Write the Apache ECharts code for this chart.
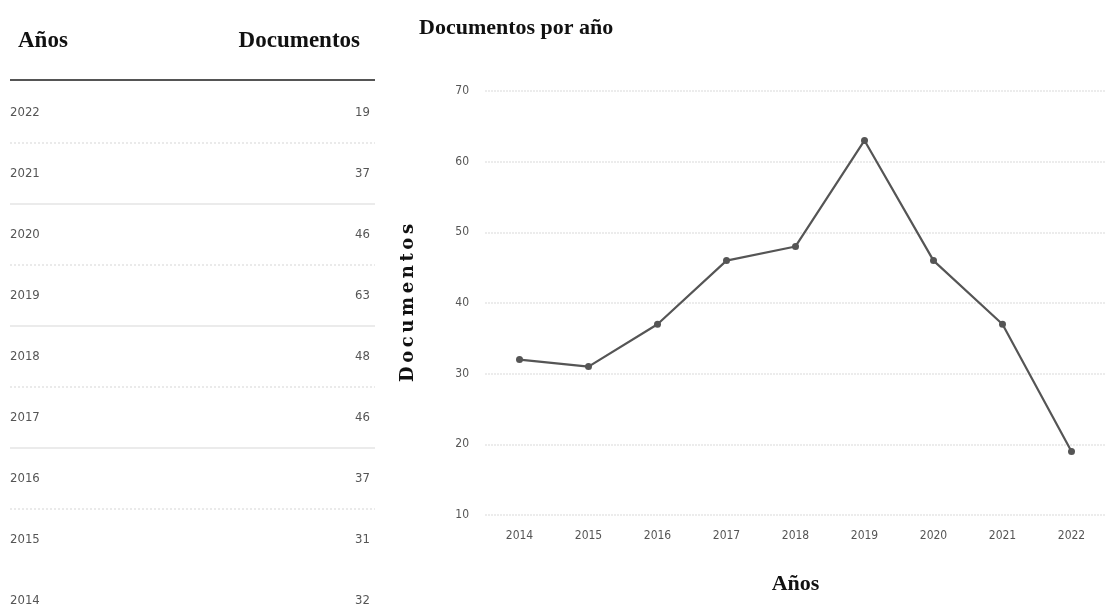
<!DOCTYPE html>
<html>
<head>
<meta charset="utf-8">
<script src="https://cdn.jsdelivr.net/npm/echarts@6/dist/echarts.min.js"></script>
<style>
  html, body { margin: 0; padding: 0; background: #fff; }
  #chart { width: 1106px; height: 607px; }
</style>
</head>
<body>
<div id="chart"></div>
<script>
// data
const years = ["2014", "2015", "2016", "2017", "2018", "2019", "2020", "2021", "2022"];
const docs = [32, 31, 37, 46, 48, 63, 46, 37, 19];
const tableHeader = ["Años", "Documentos"];

const serif = "'Liberation Serif', 'DejaVu Serif', serif";
const narrow = "'Liberation Sans Narrow', 'DejaVu Sans Condensed', sans-serif";

// table on the left, newest year first
const graphic = [];
graphic.push({
  type: "text", left: 18, top: 30,
  style: { text: tableHeader[0], font: "bold 23px " + serif, fill: "#111" }
});
graphic.push({
  type: "text", right: 1106 - 360, top: 30,
  style: { text: tableHeader[1], font: "bold 23px " + serif, fill: "#111" }
});
graphic.push({
  type: "line",
  shape: { x1: 10, y1: 80, x2: 375, y2: 80 },
  style: { stroke: "#555", lineWidth: 2 }
});

const rowTop = 113, rowStep = 61;
const rows = years.slice().reverse();
const vals = docs.slice().reverse();
rows.forEach((y, i) => {
  const cy = rowTop + i * rowStep;
  graphic.push({
    type: "text", x: 10, y: cy,
    style: { text: y, font: "13px " + narrow, fill: "#555", textVerticalAlign: "middle" }
  });
  graphic.push({
    type: "text", x: 370, y: cy,
    style: { text: String(vals[i]), font: "13px " + narrow, fill: "#555", textAlign: "right", textVerticalAlign: "middle" }
  });
  if (i < rows.length - 2) {
    graphic.push({
      type: "line",
      shape: { x1: 10, y1: cy + 30, x2: 375, y2: cy + 30 },
      style: { stroke: "#e4e4e4", lineWidth: 1.5, lineDash: i % 2 ? null : [2, 2] }
    });
  }
});

// spaced-out y axis title, like the original
const yName = "Documentos".split("").join("\u2009");

const chart = echarts.init(document.getElementById("chart"));
chart.setOption({
  animation: false,
  title: {
    text: "Documentos por año",
    left: 414, top: 12,
    textStyle: { fontFamily: serif, fontWeight: "bold", fontSize: 22, color: "#111" }
  },
  grid: { left: 485, top: 91, width: 634, height: 424 },
  xAxis: {
    type: "category",
    data: years,
    boundaryGap: true,
    name: "Años",
    nameLocation: "middle",
    nameGap: 58,
    nameTextStyle: { fontFamily: serif, fontWeight: "bold", fontSize: 22, color: "#111" },
    axisLine: { show: false },
    axisTick: { show: false },
    axisLabel: { fontFamily: narrow, fontSize: 12, color: "#555", margin: 15 }
  },
  yAxis: {
    type: "value",
    min: 10, max: 70, interval: 10,
    name: yName,
    nameLocation: "middle",
    nameRotate: 90,
    nameGap: 68,
    nameTextStyle: { fontFamily: "'DejaVu Serif', serif", fontWeight: "bold", fontSize: 18, color: "#111" },
    axisLine: { show: false },
    axisTick: { show: false },
    axisLabel: { fontFamily: narrow, fontSize: 12, color: "#555", margin: 16 },
    splitLine: { lineStyle: { color: "#e6e6e6", width: 1.5, type: [2, 1] } }
  },
  series: [{
    type: "line",
    data: docs,
    symbol: "circle",
    symbolSize: 7,
    lineStyle: { color: "#555", width: 2.2 },
    itemStyle: { color: "#555" }
  }],
  graphic: graphic
});
</script>
</body>
</html>
